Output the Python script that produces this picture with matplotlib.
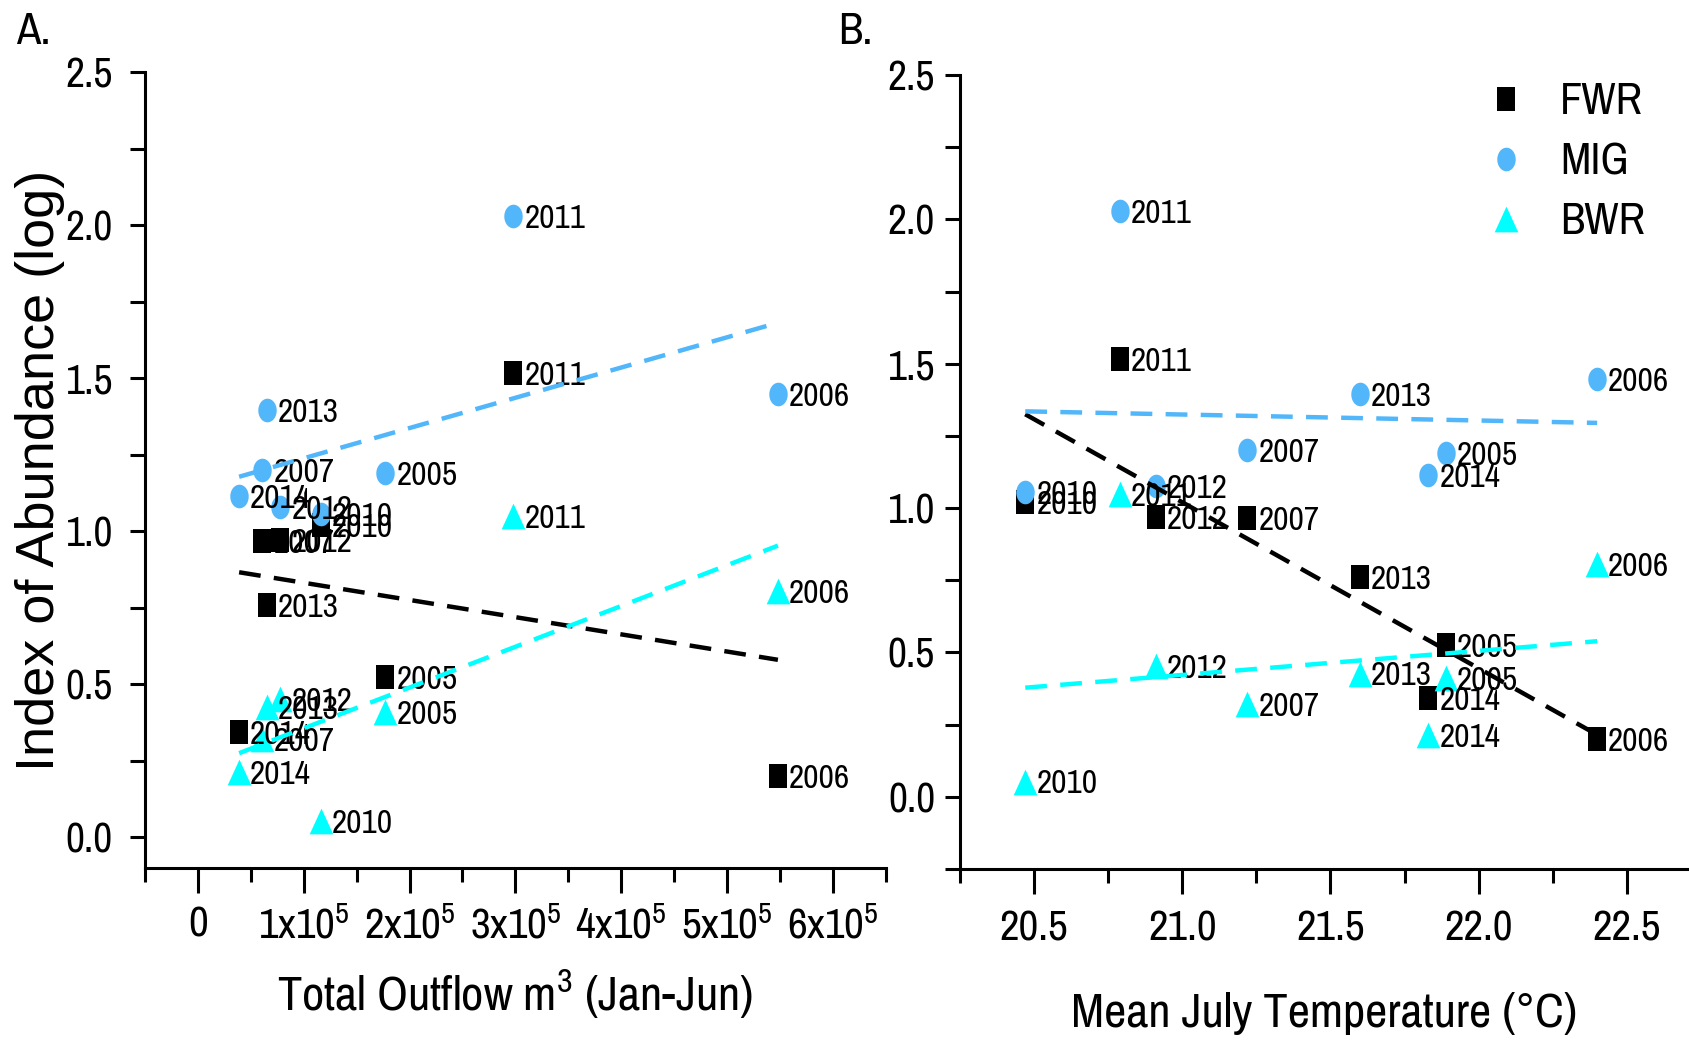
import numpy as np
import matplotlib.pyplot as plt

# the source figure is squeezed sideways, so use a narrow face
plt.rcParams["font.family"] = ["Archivo Narrow", "DejaVu Sans"]
plt.rcParams["font.stretch"] = "condensed"
plt.rcParams["mathtext.fontset"] = "custom"
plt.rcParams["mathtext.rm"] = "Archivo Narrow"
plt.rcParams["mathtext.it"] = "Archivo Narrow:italic"
plt.rcParams["mathtext.bf"] = "Archivo Narrow:bold"

# data
years = [2005, 2006, 2007, 2010, 2011, 2012, 2013, 2014]
outflow = [1.77e5, 5.48e5, 0.61e5, 1.16e5, 2.98e5, 0.78e5, 0.65e5, 0.39e5]
july_temp = [21.89, 22.40, 21.22, 20.47, 20.79, 20.91, 21.60, 21.83]
fwr = [0.525, 0.20, 0.967, 1.02, 1.517, 0.970, 0.760, 0.343]
mig = [1.19, 1.447, 1.20, 1.055, 2.03, 1.078, 1.396, 1.116]
bwr = [0.41, 0.806, 0.322, 0.053, 1.049, 0.453, 0.427, 0.213]

# trend line end points
fit_outflow_x = [0.39e5, 5.48e5]
fit_outflow_fwr = [0.866, 0.580]
fit_outflow_mig = [1.178, 1.681]
fit_outflow_bwr = [0.275, 0.953]
fit_temp_x = [20.47, 22.40]
fit_temp_fwr = [1.325, 0.215]
fit_temp_mig = [1.335, 1.295]
fit_temp_bwr = [0.378, 0.539]

outflow_ticks = [0, 1e5, 2e5, 3e5, 4e5, 5e5, 6e5]
outflow_labels = ["0", "1x10$^5$", "2x10$^5$", "3x10$^5$", "4x10$^5$", "5x10$^5$", "6x10$^5$"]

BLACK = "#000000"
BLUE = "#52b6fa"
CYAN = "#00ffff"

# markers squeezed sideways like the source image
SQ = [(-0.74, -1), (0.74, -1), (0.74, 1), (-0.74, 1), (-0.74, -1)]
_t = np.linspace(0, 2 * np.pi, 60)
ELL = list(zip(0.78 * np.cos(_t), np.sin(_t)))
TRI = [(-0.92, -1), (0.92, -1), (0, 1), (-0.92, -1)]

series = [
    ("FWR", fwr, BLACK, SQ, 17),
    ("MIG", mig, BLUE, ELL, 17),
    ("BWR", bwr, CYAN, TRI, 18.5),
]

fig = plt.figure(figsize=(16.89, 10.41), dpi=100)
ax1 = fig.add_axes([0.0858, 0.1662, 0.4387, 0.7646])
ax2 = fig.add_axes([0.5684, 0.1652, 0.4316, 0.7628])


def draw_panel(ax, xs, fit_x, fits):
    for name, vals, col, mk, ms in series:
        ax.plot(xs, vals, linestyle="none", marker=mk, markersize=ms,
                color=col, markeredgewidth=0, label=name, zorder=3)
        for x, y, yr in zip(xs, vals, years):
            ax.annotate(str(yr), (x, y), xytext=(8, -8.6), textcoords="offset points",
                        ha="left", va="baseline", fontsize=24, zorder=4)
    for fy, col in zip(fits, [BLACK, BLUE, CYAN]):
        ax.plot(fit_x, fy, color=col, lw=3.2, dashes=(4.9, 3.0), zorder=5)
    for s in ["top", "right"]:
        ax.spines[s].set_visible(False)
    for s in ["left", "bottom"]:
        ax.spines[s].set_linewidth(2.2)
    ax.tick_params(axis="both", which="both", direction="out", width=2.2)
    ax.tick_params(axis="x", which="major", length=18, labelsize=31, pad=9)
    ax.tick_params(axis="x", which="minor", length=10)
    ax.tick_params(axis="y", which="both", length=11, labelsize=30)


draw_panel(ax1, outflow, fit_outflow_x, [fit_outflow_fwr, fit_outflow_mig, fit_outflow_bwr])
ax1.set_xlim(-0.5e5, 6.5e5)
ax1.set_ylim(-0.1, 2.5)
ax1.set_xticks(outflow_ticks)
ax1.set_xticklabels(outflow_labels)
ax1.set_xticks(np.arange(-0.5e5, 6.6e5, 1e5), minor=True)
ax1.set_yticks([0, 0.5, 1.0, 1.5, 2.0, 2.5])
ax1.set_yticks([0.25, 0.75, 1.25, 1.75, 2.25], minor=True)
ax1.yaxis.set_major_formatter("{x:.1f}")
ax1.tick_params(axis="y", pad=12)
ax1.set_xlabel("Total Outflow m$^3$ (Jan-Jun)", fontsize=35)
ax1.xaxis.set_label_coords(0.5, -0.125)
ax1.set_ylabel("Index of Abundance (log)", fontsize=39,
               family=["Liberation Sans", "DejaVu Sans"], stretch="normal")
ax1.yaxis.set_label_coords(-0.108, 0.5)

draw_panel(ax2, july_temp, fit_temp_x, [fit_temp_fwr, fit_temp_mig, fit_temp_bwr])
ax2.set_xlim(20.25, 22.71)
ax2.set_ylim(-0.25, 2.5)
ax2.set_xticks([20.5, 21.0, 21.5, 22.0, 22.5])
ax2.set_xticks([20.25, 20.75, 21.25, 21.75, 22.25], minor=True)
ax2.xaxis.set_major_formatter("{x:.1f}")
ax2.set_yticks([0, 0.5, 1.0, 1.5, 2.0, 2.5])
ax2.set_yticks([-0.25, 0.25, 0.75, 1.25, 1.75, 2.25], minor=True)
ax2.yaxis.set_major_formatter("{x:.1f}")
ax2.tick_params(axis="y", pad=7)
ax2.tick_params(axis="x", pad=11)
ax2.set_xlabel("Mean July Temperature (\u00b0C)", fontsize=35)
ax2.xaxis.set_label_coords(0.5, -0.155)

leg = ax2.legend(loc="upper left", bbox_to_anchor=(1462 / 1689, 1 - 60 / 1041),
                 bbox_transform=fig.transFigure, frameon=False, fontsize=32,
                 handlelength=1.0, handletextpad=0.7, labelspacing=0.45,
                 borderpad=0, markerscale=1.0)

fig.text(16 / 1689, 1 - 12 / 1041, "A.", fontsize=32, ha="left", va="top")
fig.text(838 / 1689, 1 - 12 / 1041, "B.", fontsize=32, ha="left", va="top")

fig.savefig("out.png", dpi=100)
